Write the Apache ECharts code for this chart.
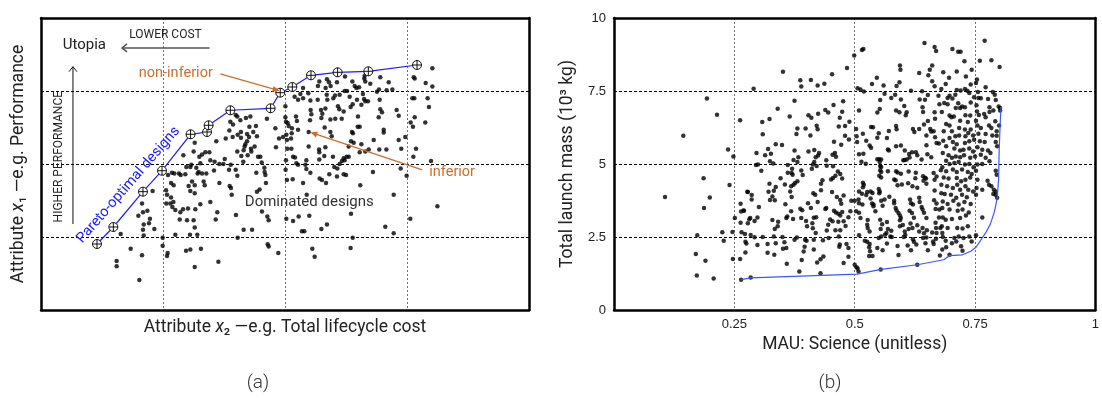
<!DOCTYPE html>
<html><head><meta charset="utf-8">
<script src="https://cdn.jsdelivr.net/npm/echarts/dist/echarts.min.js"></script>
<style>html,body{margin:0;padding:0;background:#fff}#c{width:1102px;height:399px}</style>
</head><body><div id="c"></div>
<script>
// ---------- Panel (a): generic tradespace (unitless attribute scale 0..4) ----------
const paretoA = [[0.459,0.904],[0.593,1.137],[0.836,1.621],[0.992,1.908],[1.226,2.407],[1.361,2.438],[1.374,2.530],[1.552,2.736],[1.882,2.763],[1.961,2.977],[2.060,3.055],[2.213,3.215],[2.431,3.256],[2.683,3.270],[3.082,3.356]];

const dominatedA1 = [[0.653,1.04],[0.620,0.67],[0.620,0.60],[0.735,0.84],[0.806,0.41],[0.828,0.75],[0.842,1.02],[0.836,1.10],[0.798,1.29],[0.836,1.34],[0.828,1.46],[0.872,1.36],[0.893,1.25],[0.929,1.11],[0.915,1.63],[0.885,1.19],[0.842,1.17],[0.997,0.88],[0.997,0.99],[1.038,0.78],[1.033,0.74],[1.027,1.46],[1.033,1.58],[1.025,1.64],[1.041,1.85],[1.066,1.74],[1.087,1.71],[1.066,1.54],[1.060,1.46],[1.085,1.48],[1.077,1.41],[1.101,1.37],[1.101,1.03],[1.074,1.88],[1.093,1.87],[1.131,1.87],[1.145,1.85],[1.167,2.12],[1.191,1.96],[1.183,1.86],[1.210,1.70],[1.224,1.63],[1.260,1.60],[1.238,1.76],[1.260,1.71],[1.224,1.96],[1.232,1.99],[1.251,2.17],[1.260,2.29],[1.273,1.95],[1.284,1.87],[1.292,1.89],[1.320,1.87],[1.306,2.01],[1.333,1.76],[1.342,1.71],[1.265,1.38],[1.251,1.23],[1.260,1.13],[1.306,1.45],[1.137,1.24],[1.142,1.34],[1.164,1.38],[1.205,1.39],[1.197,1.23],[1.221,1.03],[1.281,1.03],[1.189,0.81],[1.224,0.83],[1.260,0.59],[1.311,0.84],[1.454,0.66]];

const dominatedA2 = [[1.298,2.10],[1.320,2.13],[1.347,2.16],[1.380,2.16],[1.388,2.05],[1.388,1.48],[1.423,2.03],[1.418,1.91],[1.437,2.31],[1.462,2.00],[1.462,1.74],[1.445,1.34],[1.432,1.24],[1.355,1.87],[1.495,2.00],[1.506,2.07],[1.514,2.35],[1.544,2.46],[1.552,2.58],[1.574,2.54],[1.571,2.37],[1.555,1.99],[1.541,1.92],[1.546,1.70],[1.563,1.58],[1.557,1.67],[1.596,2.67],[1.609,2.65],[1.612,2.40],[1.609,2.17],[1.596,1.92],[1.609,1.84],[1.598,1.30],[1.612,0.99],[1.634,2.60],[1.639,2.44],[1.639,2.36],[1.642,2.11],[1.658,2.03],[1.661,2.19],[1.680,2.63],[1.669,2.24],[1.689,2.31],[1.708,2.51],[1.705,2.37],[1.675,2.27],[1.716,2.65],[1.721,2.21],[1.724,2.17],[1.694,2.12],[1.689,2.41],[1.740,2.44],[1.751,2.24],[1.762,2.52],[1.770,2.38],[1.779,2.10],[1.798,2.10],[1.765,1.88],[1.770,1.62],[1.809,2.02],[1.831,1.95],[1.833,1.89],[1.839,1.85],[1.844,1.74],[1.792,1.65],[1.811,1.35],[1.661,1.10],[1.730,1.10],[1.855,1.28],[1.866,1.23],[1.858,0.90],[1.866,0.87],[1.945,0.78],[1.852,2.62],[1.921,2.49],[1.926,2.23],[1.951,2.35],[1.984,2.37],[2.008,2.58],[2.003,2.64],[2.022,2.56],[2.030,2.52],[2.003,2.79],[2.011,2.40],[2.016,2.33],[2.019,2.21],[2.008,2.05],[2.005,1.92],[2.016,1.78],[2.011,1.25],[2.057,2.49],[2.055,2.42],[2.049,2.35],[2.052,2.21],[2.066,2.10],[2.063,1.79],[2.066,1.22],[2.079,2.92],[2.090,2.65],[2.098,2.59],[2.082,2.09],[2.093,2.01],[2.107,2.88],[2.112,1.28],[2.107,2.47],[2.107,1.99]];

const dominatedA3 = [[2.148,1.74],[2.178,1.58],[2.199,1.29],[2.139,1.08],[2.158,1.08],[2.224,0.84],[2.243,0.73],[2.336,1.74],[2.344,1.17],[2.298,1.11],[2.541,1.32],[2.555,0.99],[2.538,0.85],[2.617,1.71],[2.822,1.14],[2.891,1.58],[2.891,1.05],[3.027,1.25],[3.249,1.42]];

const dominatedA4 = [[3.055,3.19],[3.063,3.17],[3.208,3.31],[3.153,3.11],[3.208,3.06],[3.169,2.90],[3.180,2.78],[3.044,2.90],[3.060,2.90],[3.063,2.64],[3.030,2.57],[3.049,2.51],[3.150,2.57],[2.986,2.37],[2.953,2.21],[2.932,2.33],[3.074,2.21],[3.052,2.10],[3.197,2.04],[2.948,1.94],[2.997,1.84],[2.915,2.74],[2.932,2.66],[2.781,3.19],[2.850,3.12],[2.880,3.02],[2.833,3.01],[2.770,3.02],[2.754,2.99],[2.776,2.88],[2.781,2.75],[2.795,2.71],[2.768,2.64],[2.809,2.47],[2.809,2.43],[2.773,2.20],[2.831,2.20],[2.721,1.89],[2.653,3.21],[2.650,3.17],[2.658,3.13],[2.699,3.10],[2.585,3.04],[2.607,3.05],[2.571,3.07],[2.552,3.13],[2.639,2.96],[2.648,2.89],[2.658,2.86],[2.680,2.86],[2.626,2.81],[2.598,2.65],[2.590,2.88],[2.555,2.82],[2.530,2.92],[2.538,2.78],[2.508,3.00],[2.489,3.00],[2.448,2.95],[2.492,3.20],[2.426,3.12],[2.361,3.12],[2.344,3.16],[2.374,3.07],[2.410,2.94],[2.396,2.90],[2.342,2.95],[2.347,2.88],[2.268,2.88],[2.270,3.07],[2.281,3.13],[2.333,3.04],[2.191,2.97],[2.208,2.87],[2.148,2.90],[2.126,2.96],[2.148,3.04],[2.210,2.74],[2.216,2.68],[2.205,2.60],[2.194,2.44],[2.295,2.74],[2.331,2.76],[2.306,2.69],[2.298,2.63],[2.325,2.50],[2.372,2.61],[2.412,2.62],[2.372,2.44],[2.383,2.38],[2.434,2.79],[2.465,2.62],[2.445,2.75],[2.481,2.72],[2.541,2.31],[2.563,2.29],[2.522,2.24],[2.549,2.44],[2.557,2.42],[2.596,2.51],[2.612,2.51],[2.626,2.27],[2.612,2.16],[2.658,2.17],[2.686,2.20],[2.727,2.33],[2.194,2.24],[2.279,2.20],[2.281,2.16],[2.281,2.06],[2.331,2.23],[2.322,2.11],[2.393,2.10],[2.404,1.96],[2.429,1.94],[2.448,2.00],[2.481,2.08],[2.489,2.05],[2.505,2.10],[2.467,2.04],[2.522,2.10],[2.363,1.86],[2.284,1.80],[2.175,2.05],[2.167,1.99],[2.175,1.93],[2.208,1.88],[2.426,1.83],[2.481,1.86],[2.500,1.85],[2.303,1.78]];

// ---------- Panel (b): MAU Science vs total launch mass (10^3 kg) ----------
const frontierB = [[0.264,1.04],[0.284,1.10],[0.505,1.23],[0.555,1.39],[0.630,1.55],[0.685,1.72],[0.697,1.86],[0.724,1.89],[0.741,2.01],[0.752,2.15],[0.772,2.64],[0.782,2.95],[0.790,3.35],[0.796,3.82],[0.799,4.50],[0.800,5.40],[0.802,6.30],[0.804,6.95]];

const designsB1 = [[0.193,7.24],[0.214,6.69],[0.262,6.50],[0.144,5.97],[0.237,5.50],[0.248,5.26],[0.186,4.51],[0.240,4.28],[0.106,3.87],[0.199,3.85],[0.278,4.04],[0.187,3.49],[0.263,3.64],[0.264,3.37],[0.270,3.40],[0.251,3.15],[0.263,2.99],[0.278,2.97],[0.225,2.66],[0.246,2.67],[0.265,2.66],[0.173,2.56],[0.228,2.37],[0.273,2.34],[0.170,1.92],[0.190,1.69],[0.247,1.75],[0.262,1.75],[0.273,1.97],[0.172,1.18],[0.207,1.08],[0.264,1.04]];

const designsB2 = [[0.351,8.16],[0.290,7.58],[0.387,7.87],[0.389,7.65],[0.409,7.88],[0.423,7.69],[0.437,7.75],[0.453,8.07],[0.484,8.29],[0.375,7.17],[0.340,6.89],[0.456,7.02],[0.439,6.85],[0.445,6.76],[0.476,7.15],[0.474,6.79],[0.469,6.58],[0.323,6.54],[0.308,6.44],[0.309,6.02],[0.365,6.63],[0.404,6.67],[0.410,6.58],[0.424,6.72],[0.489,6.45],[0.381,6.22],[0.398,6.22],[0.421,6.31],[0.423,6.19],[0.467,6.28],[0.480,6.30],[0.379,6.03],[0.408,5.98],[0.480,5.97],[0.488,5.84],[0.336,5.68],[0.349,5.65],[0.457,5.76],[0.472,5.66],[0.320,5.51],[0.296,5.38],[0.314,5.30],[0.326,5.35],[0.375,5.46],[0.404,5.43],[0.416,5.48],[0.324,5.09],[0.331,5.02],[0.295,4.97],[0.299,4.98],[0.306,4.77],[0.373,5.14],[0.383,5.23],[0.381,5.07],[0.370,4.84],[0.361,4.97],[0.426,5.38],[0.424,5.29],[0.419,5.23],[0.416,5.07],[0.413,4.98],[0.411,4.84],[0.421,4.93],[0.441,5.13],[0.442,4.94],[0.454,5.32],[0.459,5.38],[0.461,5.25],[0.455,4.92],[0.465,4.74],[0.470,4.66],[0.346,4.51],[0.361,4.70],[0.369,4.69],[0.371,4.63],[0.389,4.78],[0.392,4.62],[0.323,4.32],[0.336,4.21],[0.321,4.05],[0.332,4.08],[0.334,3.76],[0.324,3.77],[0.329,3.89],[0.355,4.30],[0.368,4.24],[0.373,4.29],[0.376,4.35],[0.381,4.41],[0.366,4.06],[0.369,3.87],[0.356,3.62],[0.430,4.32],[0.433,4.44],[0.430,4.10],[0.418,3.95],[0.414,4.00],[0.423,3.70],[0.403,3.66],[0.409,3.49],[0.451,4.47],[0.455,4.52],[0.460,4.60],[0.474,4.50],[0.453,4.04],[0.463,3.87],[0.470,3.77],[0.477,3.92],[0.472,3.64],[0.493,3.74],[0.277,4.05],[0.286,3.94],[0.286,3.78],[0.301,3.53],[0.269,3.41],[0.281,3.11],[0.283,3.15],[0.298,3.17],[0.292,3.05],[0.329,3.08],[0.341,3.02],[0.340,2.87],[0.334,2.77],[0.358,3.15],[0.360,3.20],[0.372,3.12],[0.368,3.38],[0.387,3.47],[0.391,3.42],[0.389,3.15],[0.399,3.05],[0.401,2.87],[0.415,3.16],[0.420,3.18],[0.412,2.97],[0.413,2.80],[0.419,2.64],[0.439,3.46],[0.441,3.49],[0.457,3.40],[0.461,3.34],[0.466,3.30],[0.470,3.24],[0.474,3.36],[0.487,3.18],[0.491,3.38],[0.449,3.10],[0.454,3.04],[0.445,2.92],[0.442,2.72],[0.466,3.02],[0.477,3.04],[0.481,2.88],[0.470,2.73],[0.467,2.52],[0.460,2.73],[0.446,2.47],[0.272,2.60],[0.284,2.57],[0.292,2.49],[0.309,2.50],[0.332,2.52],[0.350,2.50],[0.375,2.41],[0.380,2.48],[0.397,2.41],[0.400,2.37],[0.396,2.17],[0.394,2.00],[0.415,2.41],[0.415,2.07],[0.434,2.39],[0.469,2.24],[0.468,2.17],[0.483,2.26],[0.487,2.12],[0.275,2.28],[0.298,2.23],[0.319,2.26],[0.319,1.96],[0.333,1.89],[0.336,2.29],[0.351,2.10],[0.354,2.32],[0.358,2.12],[0.359,1.58],[0.390,1.71],[0.385,1.32],[0.422,1.63],[0.429,1.74],[0.435,1.83],[0.477,1.61],[0.487,1.82],[0.284,1.11],[0.429,1.26]];

const designsB3 = [[0.645,9.14],[0.666,9.01],[0.669,8.87],[0.518,8.94],[0.515,8.90],[0.499,8.72],[0.594,8.37],[0.595,8.23],[0.661,8.37],[0.656,8.23],[0.634,8.12],[0.653,8.04],[0.546,7.95],[0.536,7.74],[0.560,7.69],[0.587,7.67],[0.593,7.80],[0.661,7.83],[0.666,7.66],[0.506,7.59],[0.512,7.55],[0.519,7.48],[0.617,7.51],[0.640,7.49],[0.562,7.41],[0.584,7.37],[0.576,7.26],[0.596,7.21],[0.652,7.36],[0.646,7.20],[0.635,7.21],[0.553,7.19],[0.674,7.34],[0.676,7.05],[0.603,6.99],[0.641,6.94],[0.642,6.78],[0.586,6.83],[0.593,6.77],[0.608,6.77],[0.606,6.67],[0.552,6.88],[0.547,6.76],[0.509,6.83],[0.666,6.77],[0.667,6.55],[0.652,6.47],[0.644,6.35],[0.534,6.27],[0.538,6.26],[0.586,6.30],[0.587,6.19],[0.621,6.20],[0.624,6.10],[0.634,6.20],[0.503,6.20],[0.504,5.95],[0.517,6.04],[0.550,6.05],[0.571,6.13],[0.547,5.90],[0.657,6.20],[0.659,6.11],[0.664,6.12],[0.649,5.98],[0.667,5.92],[0.649,5.64],[0.670,5.72],[0.675,5.70],[0.567,5.89],[0.524,5.80],[0.531,5.63],[0.534,5.56],[0.505,5.75],[0.569,5.50],[0.571,5.46],[0.586,5.61],[0.596,5.63],[0.604,5.46],[0.613,5.34],[0.619,5.40],[0.627,5.40],[0.630,5.30],[0.639,5.15],[0.651,5.33],[0.659,5.23],[0.509,5.33],[0.518,5.35],[0.514,5.08],[0.523,5.01],[0.547,5.16],[0.551,5.16],[0.555,5.15],[0.552,5.07],[0.601,5.13],[0.604,5.14],[0.608,5.15],[0.614,5.22],[0.553,4.93],[0.555,4.90],[0.553,4.79],[0.555,4.73],[0.551,4.60],[0.555,4.54],[0.569,4.75],[0.586,4.75],[0.589,4.71],[0.596,4.67],[0.612,4.74],[0.627,4.70],[0.626,4.51],[0.642,4.58],[0.646,4.53],[0.643,4.43],[0.649,4.32],[0.648,4.50],[0.664,4.69],[0.666,4.46],[0.670,4.57],[0.679,4.79],[0.582,4.47],[0.585,4.44],[0.589,4.27],[0.598,4.30],[0.611,4.34],[0.620,4.24],[0.630,4.19],[0.517,4.36],[0.519,4.29],[0.517,4.20],[0.509,4.06],[0.515,3.98],[0.524,3.94],[0.526,4.04],[0.533,4.06],[0.537,4.01],[0.550,4.14],[0.552,4.06],[0.551,4.00],[0.500,3.74],[0.508,3.78],[0.509,3.66],[0.516,3.61],[0.503,3.38],[0.509,3.33],[0.512,3.15],[0.533,3.82],[0.536,3.65],[0.539,3.55],[0.543,3.38],[0.539,3.61],[0.555,3.74],[0.562,3.78],[0.558,3.57],[0.572,3.88],[0.582,3.74],[0.582,3.66],[0.585,3.49],[0.587,3.41],[0.591,3.32],[0.594,3.24],[0.596,3.15],[0.594,3.07],[0.615,3.78],[0.617,3.66],[0.621,3.61],[0.614,3.40],[0.619,3.32],[0.623,3.16],[0.634,3.84],[0.635,3.70],[0.639,3.53],[0.641,3.44],[0.644,3.33],[0.649,3.15],[0.666,4.09],[0.665,3.76],[0.670,3.65],[0.668,3.46],[0.676,3.44],[0.680,4.00],[0.675,3.17],[0.527,3.08],[0.526,2.92],[0.527,2.81],[0.531,2.69],[0.553,3.09],[0.557,2.94],[0.554,2.77],[0.567,3.01],[0.569,2.77],[0.576,2.71],[0.566,2.64],[0.594,2.87],[0.600,2.91],[0.604,2.69],[0.616,2.96],[0.612,2.77],[0.620,2.81],[0.630,2.90],[0.634,2.69],[0.641,2.81],[0.644,2.63],[0.650,2.73],[0.661,2.65],[0.668,2.99],[0.669,2.81],[0.670,2.64],[0.678,2.81],[0.509,2.56],[0.521,2.37],[0.526,2.34],[0.531,2.26],[0.530,2.15],[0.532,2.01],[0.530,1.85],[0.537,1.85],[0.550,2.47],[0.555,2.52],[0.563,2.58],[0.567,2.28],[0.547,2.12],[0.558,2.05],[0.574,2.52],[0.577,2.50],[0.589,2.19],[0.591,1.88],[0.602,2.50],[0.605,2.57],[0.610,2.21],[0.621,2.42],[0.623,2.34],[0.628,2.24],[0.617,2.05],[0.642,2.47],[0.649,2.48],[0.647,2.29],[0.663,2.35],[0.664,2.26],[0.669,2.44],[0.652,2.05],[0.677,1.87],[0.500,1.55],[0.504,1.46],[0.506,1.42],[0.508,1.32],[0.554,1.39],[0.630,1.55]];

const designsB4 = [[0.770,9.22],[0.703,8.94],[0.715,8.84],[0.720,8.84],[0.784,8.55],[0.760,8.54],[0.728,8.52],[0.743,8.23],[0.801,8.32],[0.712,8.17],[0.684,8.14],[0.731,8.00],[0.696,7.95],[0.754,7.89],[0.752,7.77],[0.689,7.74],[0.741,7.72],[0.772,7.63],[0.680,7.57],[0.712,7.53],[0.720,7.52],[0.729,7.57],[0.734,7.51],[0.738,7.43],[0.756,7.47],[0.787,7.47],[0.791,7.37],[0.697,7.34],[0.693,7.26],[0.703,7.24],[0.709,7.37],[0.748,7.29],[0.757,7.26],[0.762,7.25],[0.777,7.23],[0.793,7.19],[0.686,7.09],[0.693,7.05],[0.715,7.08],[0.723,6.97],[0.741,7.11],[0.753,7.01],[0.710,6.92],[0.719,6.92],[0.729,6.94],[0.780,6.94],[0.799,6.97],[0.802,6.92],[0.802,6.83],[0.681,6.78],[0.697,6.66],[0.701,6.60],[0.706,6.63],[0.730,6.67],[0.740,6.66],[0.754,6.80],[0.758,6.68],[0.769,6.71],[0.772,6.60],[0.780,6.78],[0.788,6.83],[0.792,6.46],[0.800,6.32],[0.752,6.48],[0.735,6.44],[0.719,6.48],[0.690,6.37],[0.697,6.32],[0.702,6.12],[0.685,6.12],[0.717,6.23],[0.729,6.18],[0.741,6.18],[0.755,6.32],[0.762,6.23],[0.779,6.32],[0.784,6.23],[0.795,6.12],[0.795,5.97],[0.786,5.98],[0.772,6.03],[0.757,6.04],[0.746,5.98],[0.736,6.06],[0.730,5.95],[0.717,5.98],[0.709,5.95],[0.697,5.89],[0.684,5.80],[0.704,5.75],[0.712,5.68],[0.729,5.72],[0.738,5.78],[0.748,5.83],[0.760,5.78],[0.770,5.75],[0.793,5.75],[0.796,5.61],[0.690,5.61],[0.707,5.53],[0.719,5.46],[0.726,5.49],[0.738,5.53],[0.746,5.43],[0.755,5.57],[0.765,5.49],[0.777,5.46],[0.782,5.38],[0.683,5.38],[0.695,5.30],[0.702,5.21],[0.710,5.26],[0.719,5.23],[0.727,5.30],[0.740,5.21],[0.750,5.26],[0.762,5.32],[0.772,5.21],[0.780,5.09],[0.690,5.11],[0.697,5.00],[0.707,5.03],[0.716,5.07],[0.729,4.98],[0.738,5.00],[0.747,4.89],[0.755,4.98],[0.765,5.00],[0.682,4.89],[0.690,4.75],[0.704,4.81],[0.712,4.73],[0.723,4.81],[0.735,4.73],[0.743,4.66],[0.752,4.77],[0.793,4.77],[0.795,4.63],[0.685,4.54],[0.695,4.50],[0.712,4.52],[0.721,4.41],[0.730,4.46],[0.740,4.54],[0.755,4.46],[0.776,4.43],[0.779,4.29],[0.784,4.24],[0.789,4.12],[0.793,4.06],[0.793,3.95],[0.796,3.84],[0.788,3.97],[0.680,4.29],[0.692,4.24],[0.704,4.18],[0.713,4.29],[0.719,4.12],[0.730,4.24],[0.736,4.12],[0.746,4.06],[0.753,4.18],[0.765,4.12],[0.687,3.97],[0.700,3.95],[0.711,3.84],[0.723,3.95],[0.733,3.86],[0.752,3.95],[0.683,3.72],[0.693,3.63],[0.705,3.74],[0.716,3.61],[0.728,3.70],[0.741,3.63],[0.682,3.49],[0.697,3.44],[0.714,3.40],[0.724,3.44],[0.737,3.34],[0.765,3.17],[0.683,3.17],[0.689,3.09],[0.702,3.12],[0.719,3.15],[0.731,3.24],[0.681,2.87],[0.693,2.81],[0.713,2.81],[0.724,2.79],[0.735,2.87],[0.682,2.64],[0.683,2.50],[0.707,2.47],[0.716,2.52],[0.726,2.47],[0.738,2.52],[0.752,2.56],[0.689,2.37],[0.702,2.29],[0.711,2.35],[0.721,2.18],[0.690,2.15],[0.743,2.35],[0.682,2.07],[0.724,2.03],[0.697,1.89]];

const xTicksB = [0.25, 0.5, 0.75, 1];
const yTicksB = [0, 2.5, 5, 7.5, 10];

// ---------- chart ----------
const FONT = 'Roboto, "Liberation Sans", sans-serif';
const TICKFONT = '"Liberation Sans", Arial, sans-serif';
const ORANGE = '#cf6d2a';
const chart = echarts.init(document.getElementById('c'));

const nameStyle = {fontFamily: FONT, fontSize: 17.5, color: '#222', rich: {i: {fontFamily: FONT, fontSize: 17.5, fontStyle: 'italic', color: '#222'}}};
const vGrid = {show: true, lineStyle: {color: '#6f6f6f', type: [2, 2], width: 1}};
const hGrid = {show: true, lineStyle: {color: '#000', type: [3, 2], width: 1}};
const frame = {show: true, onZero: false, lineStyle: {color: '#000', width: 2.5}};
const circlePlus = 'path://M20,10A10,10,0,1,1,0,10A10,10,0,1,1,20,10ZM10,0L10,20M0,10L20,10';
const bare = {axisTick: {show: false}, axisLabel: {show: false}, splitLine: {show: false}, axisLine: frame};

chart.setOption({
  animation: false,
  grid: [
    {left: 41, top: 18, width: 488, height: 292},
    {left: 614, top: 18, width: 487, height: 292}
  ],
  xAxis: [
    {gridIndex: 0, type: 'value', min: 0, max: 4, interval: 1,
     axisLine: frame, axisTick: {show: false}, axisLabel: {show: false}, splitLine: vGrid,
     name: 'Attribute {i|x}₂ —e.g. Total lifecycle cost', nameLocation: 'middle', nameGap: 9, nameTextStyle: nameStyle},
    {gridIndex: 1, type: 'value', min: 0, max: 1, interval: 0.25,
     axisLine: frame, axisTick: {show: false}, splitLine: vGrid,
     axisLabel: {margin: 8, fontFamily: TICKFONT, fontSize: 13, color: '#222',
       formatter: v => xTicksB.indexOf(v) >= 0 ? String(v) : ''},
     name: 'MAU: Science (unitless)', nameLocation: 'middle', nameGap: 23, nameTextStyle: nameStyle},
    Object.assign({gridIndex: 0, type: 'value', min: 0, max: 4, position: 'top'}, bare),
    Object.assign({gridIndex: 1, type: 'value', min: 0, max: 1, position: 'top'}, bare)
  ],
  yAxis: [
    {gridIndex: 0, type: 'value', min: 0, max: 4, interval: 1,
     axisLine: frame, axisTick: {show: false}, axisLabel: {show: false}, splitLine: hGrid,
     name: 'Attribute {i|x}₁ —e.g. Performance', nameLocation: 'middle', nameGap: 13, nameTextStyle: nameStyle},
    {gridIndex: 1, type: 'value', min: 0, max: 10, interval: 2.5,
     axisLine: frame, axisTick: {show: false}, splitLine: hGrid,
     axisLabel: {margin: 8, fontFamily: TICKFONT, fontSize: 13, color: '#222',
       formatter: v => yTicksB.indexOf(v) >= 0 ? String(v) : ''},
     name: 'Total launch mass (10³ kg)', nameLocation: 'middle', nameGap: 37, nameTextStyle: nameStyle},
    Object.assign({gridIndex: 0, type: 'value', min: 0, max: 4, position: 'right'}, bare),
    Object.assign({gridIndex: 1, type: 'value', min: 0, max: 10, position: 'right'}, bare)
  ],
  series: [
    {type: 'scatter', xAxisIndex: 0, yAxisIndex: 0, symbolSize: 4.5, itemStyle: {color: '#000'},
     data: [].concat(dominatedA1, dominatedA2, dominatedA3, dominatedA4), z: 2},
    {type: 'line', xAxisIndex: 0, yAxisIndex: 0, data: paretoA, z: 3,
     lineStyle: {color: '#1a1aff', width: 1.2},
     symbol: circlePlus, symbolSize: 9, showAllSymbol: true,
     itemStyle: {color: '#fff', borderColor: '#111', borderWidth: 1}},
    {type: 'scatter', xAxisIndex: 1, yAxisIndex: 1, symbolSize: 4.5, itemStyle: {color: '#000'},
     data: [].concat(designsB1, designsB2, designsB3, designsB4), z: 2},
    {type: 'line', xAxisIndex: 1, yAxisIndex: 1, data: frontierB, symbol: 'none', z: 3,
     lineStyle: {color: '#3d55ff', width: 1.2}}
  ]
});

// ---------- annotations on panel (a), anchored in its data units ----------
const notes = [
  {text: 'Utopia', at: [0.355, 3.62], size: 15, color: '#222'},
  {text: 'LOWER COST', at: [1.02, 3.77], size: 12, color: '#222'},
  {text: 'HIGHER PERFORMANCE', at: [0.150, 2.10], size: 12, color: '#222', rot: 90},
  {text: 'non-inferior', at: [1.105, 3.247], size: 14.5, color: ORANGE},
  {text: 'inferior', at: [3.37, 1.88], size: 14.5, color: ORANGE},
  {text: 'Dominated designs', at: [2.199, 1.479], size: 15, color: '#333'},
  {text: 'Pareto-optimal designs', at: [0.716, 1.712], size: 14.5, color: '#1a1aff', rot: 49}
];
const arrows = [
  {from: [1.382, 3.59], to: [0.664, 3.59], color: '#555', width: 1.5, filled: false},
  {from: [0.262, 1.178], to: [0.262, 3.333], color: '#111', width: 1, filled: false},
  {from: [1.470, 3.233], to: [1.956, 3.004], color: ORANGE, width: 1.3, filled: true},
  {from: [3.125, 1.918], to: [2.208, 2.434], color: ORANGE, width: 1.3, filled: true}
];
const px = p => chart.convertToPixel({gridIndex: 0}, p);
const els = [];
notes.forEach(n => {
  const p = px(n.at);
  els.push({type: 'text', x: p[0], y: p[1], rotation: (n.rot || 0) * Math.PI / 180, z: 10,
    style: {text: n.text, align: 'center', verticalAlign: 'middle', fill: n.color,
      font: n.size + 'px ' + FONT}});
});
arrows.forEach(a => {
  const p1 = px(a.from), p2 = px(a.to);
  const dx = p2[0] - p1[0], dy = p2[1] - p1[1], L = Math.hypot(dx, dy);
  const ux = dx / L, uy = dy / L, nx = -uy, ny = ux;
  const len = a.filled ? 7 : 5, half = a.filled ? 3 : 4;
  const h1 = [p2[0] - ux * len + nx * half, p2[1] - uy * len + ny * half];
  const h2 = [p2[0] - ux * len - nx * half, p2[1] - uy * len - ny * half];
  const end = a.filled ? [p2[0] - ux * len * 0.6, p2[1] - uy * len * 0.6] : p2;
  els.push({type: 'line', z: 10, shape: {x1: p1[0], y1: p1[1], x2: end[0], y2: end[1]},
    style: {stroke: a.color, lineWidth: a.width}});
  if (a.filled) els.push({type: 'polygon', z: 10, shape: {points: [h1, p2, h2]}, style: {fill: a.color}});
  else els.push({type: 'polyline', z: 10, shape: {points: [h1, p2, h2]}, style: {stroke: a.color, lineWidth: a.width, fill: null}});
});
els.push({type: 'text', x: 258, y: 383, z: 10, style: {text: '(a)', align: 'center', verticalAlign: 'middle', fill: '#333', font: '300 19px ' + FONT}});
els.push({type: 'text', x: 830, y: 383, z: 10, style: {text: '(b)', align: 'center', verticalAlign: 'middle', fill: '#333', font: '300 19px ' + FONT}});
chart.setOption({graphic: {elements: els}});
</script>
</body></html>
